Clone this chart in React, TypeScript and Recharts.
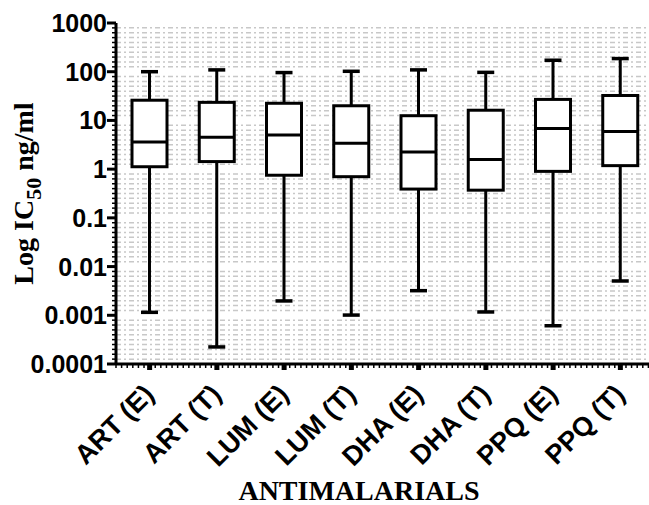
import React from "react";
import { ComposedChart, Bar, Scatter, XAxis, YAxis, CartesianGrid } from "recharts";

const categories = ["ART (E)", "ART (T)", "LUM (E)", "LUM (T)", "DHA (E)", "DHA (T)", "PPQ (E)", "PPQ (T)"];
const minValues = [0.00115, 0.000224, 0.00197, 0.00101, 0.0032, 0.00117, 0.00061, 0.00506];
const q1Values = [1.12, 1.43, 0.75, 0.7, 0.39, 0.37, 0.9, 1.18];
const medianValues = [3.6, 4.5, 5.0, 3.4, 2.25, 1.57, 6.8, 5.9];
const q3Values = [26, 23.5, 22.5, 20, 12.5, 16.2, 27, 32.5];
const maxValues = [100, 109, 96, 102, 109, 97, 172, 186];

const yTickLabels = ["0.0001", "0.001", "0.01", "0.1", "1", "10", "100", "1000"];
const yExponents = [-4, -3, -2, -1, 0, 1, 2, 3];
const MINOR_PER_DECADE = 10;
const MINOR_PER_CATEGORY = 12;

const data = categories.map((name, i) => ({
  name,
  pos: i + 0.5,
  range: [minValues[i], maxValues[i]],
  box: [q1Values[i], q3Values[i]],
  median: medianValues[i],
}));

const yTicks: number[] = [];
yExponents.forEach((e, i) => {
  const steps = i === yExponents.length - 1 ? 1 : MINOR_PER_DECADE;
  for (let k = 0; k < steps; k++) yTicks.push(Math.pow(10, e + k / MINOR_PER_DECADE));
});
const gridValues = yTicks.filter((v) => Math.abs(Math.log10(v) - Math.round(Math.log10(v))) > 1e-6);

const xTicks: number[] = [];
for (let k = 0; k <= categories.length * MINOR_PER_CATEGORY; k++) xTicks.push(k / MINOR_PER_CATEGORY);

const isMajorY = (v: number) => Math.abs(Math.log10(v) - Math.round(Math.log10(v))) < 1e-6;
const isMajorX = (v: number) => {
  const d = v * 2;
  return Math.abs(d - Math.round(d)) < 1e-6 && Math.round(d) % 2 === 1;
};

const SANS = "Arial, 'Liberation Sans', Helvetica, sans-serif";
const SERIF = "'Times New Roman', 'Liberation Serif', serif";

const YTick = (props: any) => {
  const { x, y, payload } = props;
  const v = payload.value;
  if (isMajorY(v)) {
    const idx = yExponents.indexOf(Math.round(Math.log10(v)));
    return (
      <g>
        <line x1={x - 9} x2={x} y1={y} y2={y} stroke="#000" strokeWidth={3} />
        <text x={x - 9} y={y} dy="0.36em" textAnchor="end" fontFamily={SANS} fontWeight="bold" fontSize={25} fill="#000">
          {yTickLabels[idx]}
        </text>
      </g>
    );
  }
  return <line x1={x - 4} x2={x} y1={y} y2={y} stroke="#000" strokeWidth={1.5} />;
};

const XTick = (props: any) => {
  const { x, y, payload } = props;
  const v = payload.value;
  if (isMajorX(v)) {
    const label = categories[Math.floor(v)];
    const ax = x + 6;
    const ay = y + 32;
    return (
      <g>
        <line x1={x} x2={x} y1={y} y2={y + 6} stroke="#000" strokeWidth={5} />
        <text
          x={ax}
          y={ay}
          textAnchor="end"
          transform={`rotate(-45, ${ax}, ${ay})`}
          fontFamily={SANS}
          fontWeight="bold"
          fontSize={27}
          fill="#000"
        >
          {label}
        </text>
      </g>
    );
  }
  return <line x1={x} x2={x} y1={y} y2={y + 4} stroke="#000" strokeWidth={1.5} />;
};

const WhiskerShape = (props: any) => {
  const { x, y, width, height } = props;
  if (x == null || y == null) return null;
  const cx = x + width / 2;
  return (
    <g>
      <line x1={cx} x2={cx} y1={y} y2={y + height} stroke="#000" strokeWidth={3} />
      <line x1={x} x2={x + width} y1={y} y2={y} stroke="#000" strokeWidth={3.5} />
      <line x1={x} x2={x + width} y1={y + height} y2={y + height} stroke="#000" strokeWidth={3.5} />
    </g>
  );
};

const BoxShape = (props: any) => {
  const { x, y, width, height } = props;
  if (x == null || y == null) return null;
  return <rect x={x} y={y} width={width} height={height} fill="#fff" stroke="#000" strokeWidth={3} />;
};

const MedianShape = (props: any) => {
  const { cx, cy } = props;
  if (cx == null || cy == null) return null;
  return <line x1={cx - 17} x2={cx + 17} y1={cy} y2={cy} stroke="#000" strokeWidth={3} />;
};

const YLabel = (props: any) => {
  const vb = props.viewBox || { x: 0, y: 23, width: 116, height: 341 };
  const x = vb.x + 33;
  const y = vb.y + vb.height / 2;
  return (
    <text
      x={x}
      y={y}
      textAnchor="middle"
      transform={`rotate(-90, ${x}, ${y})`}
      fontFamily={SERIF}
      fontWeight="bold"
      fontSize={28}
      fill="#000"
    >
      <tspan>Log IC</tspan>
      <tspan dy={8} fontSize={22}>50</tspan>
      <tspan dy={-8}> ng/ml</tspan>
    </text>
  );
};

const XLabel = (props: any) => {
  const vb = props.viewBox || { x: 116, y: 364, width: 538, height: 141 };
  const x = vb.x + vb.width / 2 - 26;
  const y = vb.y + vb.height - 5;
  return (
    <text x={x} y={y} textAnchor="middle" fontFamily={SERIF} fontWeight="bold" fontSize={28} fill="#000">
      ANTIMALARIALS
    </text>
  );
};

export default function App() {
  return (
    <div style={{ position: "absolute", left: 0, top: 0, width: 649, height: 505, overflow: "hidden", background: "#fff" }}>
      <ComposedChart width={662} height={505} data={data} margin={{ top: 23, right: 8, bottom: 0, left: 0 }}>
        <CartesianGrid
          horizontal={true}
          vertical={false}
          horizontalValues={gridValues}
          stroke="#c8c8c8"
          strokeWidth={1.5}
          strokeDasharray="5 3 2 3"
        />
        <XAxis
          xAxisId="main"
          type="number"
          dataKey="pos"
          domain={[0, categories.length]}
          ticks={xTicks}
          interval={0}
          tick={<XTick />}
          tickLine={false}
          tickSize={0}
          tickMargin={0}
          axisLine={{ stroke: "#000", strokeWidth: 3 }}
          height={141}
          label={<XLabel />}
          allowDataOverflow
        />
        <XAxis xAxisId="whisk" type="number" dataKey="pos" domain={[0, categories.length]} hide />
        <YAxis
          scale="log"
          type="number"
          domain={[0.0001, 1000]}
          allowDataOverflow
          ticks={yTicks}
          interval={0}
          tick={<YTick />}
          tickLine={false}
          tickSize={0}
          tickMargin={0}
          axisLine={{ stroke: "#000", strokeWidth: 3 }}
          width={116}
          label={<YLabel />}
        />
        <Bar xAxisId="whisk" dataKey="range" barSize={17} shape={<WhiskerShape />} isAnimationActive={false} />
        <Bar xAxisId="main" dataKey="box" barSize={35} shape={<BoxShape />} isAnimationActive={false} />
        <Scatter xAxisId="main" dataKey="median" shape={<MedianShape />} isAnimationActive={false} />
      </ComposedChart>
    </div>
  );
}
